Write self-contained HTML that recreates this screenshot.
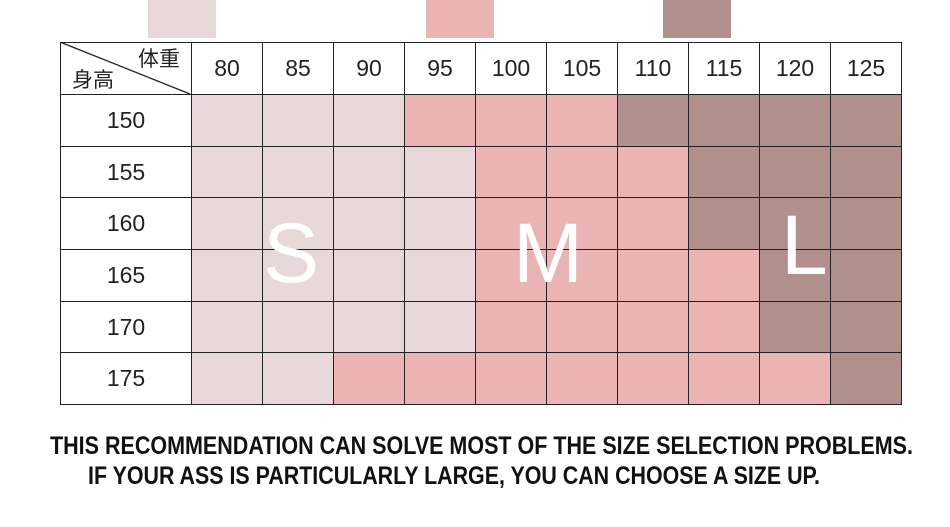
<!DOCTYPE html>
<html><head><meta charset="utf-8"><style>
body{margin:0;width:950px;height:527px;background:#fff;position:relative;overflow:hidden;font-family:"Liberation Sans","Noto Sans CJK SC",sans-serif}
.sw{position:absolute;top:0;height:38px;width:68px}
table{position:absolute;left:60px;top:42px;border-collapse:collapse}
td{border:1.5px solid #222;padding:0;text-align:center;font-size:23px;color:#222}
.S{background:#e8d8d9}.M{background:#e9b4b3}.L{background:#b18f8d}
.big{position:absolute;color:#fff;font-size:84px;font-family:"Liberation Sans",sans-serif;line-height:1}
.t{position:absolute;font-family:"Liberation Sans Narrow","Liberation Sans",sans-serif;font-weight:bold;font-size:25px;color:#111;white-space:nowrap;transform-origin:0 0}
</style></head><body>
<div class="sw S" style="left:148px"></div>
<div class="sw M" style="left:426px"></div>
<div class="sw L" style="left:663px"></div>
<table id="tb"></table>
<svg style="position:absolute;left:60px;top:42px" width="131" height="53"><line x1="0" y1="0" x2="130" y2="52" stroke="#222" stroke-width="1.3"/>
<text x="120" y="24" font-size="21" text-anchor="end" fill="#222" font-family="Noto Sans CJK SC,sans-serif">体重</text>
<text x="12" y="45" font-size="21" fill="#222" font-family="Noto Sans CJK SC,sans-serif">身高</text></svg>
<div class="big" style="left:263px;top:211px">S</div>
<div class="big" style="left:513px;top:211px">M</div>
<div class="big" style="left:781px;top:203px">L</div>
<div class="t" style="left:50px;top:432px">THIS RECOMMENDATION CAN SOLVE MOST OF THE SIZE SELECTION PROBLEMS.</div>
<div class="t" style="left:88px;top:462px">IF YOUR ASS IS PARTICULARLY LARGE, YOU CAN CHOOSE A SIZE UP.</div>
<script>
var g=["SSSMMMLLLL","SSSSMMMLLL","SSSSMMMLLL","SSSSMMMMLL","SSSSMMMMLL","SSMMMMMMML"];
var h="<tr style='height:52px'><td style='width:130px'></td>";
[80,85,90,95,100,105,110,115,120,125].forEach(function(v){h+="<td style='width:70px'>"+v+"</td>"});
h+="</tr>";
[150,155,160,165,170,175].forEach(function(r,i){h+="<tr style='height:51.7px'><td>"+r+"</td>";for(var j=0;j<10;j++)h+="<td class='"+g[i][j]+"'></td>";h+="</tr>"});
document.getElementById("tb").innerHTML=h;
document.querySelectorAll(".t").forEach(function(e){var tw=e.getBoundingClientRect().width;var target=e.style.top=="432px"?863:732;e.style.transform="scaleX("+(target/tw)+")"});
</script>
</body></html>
